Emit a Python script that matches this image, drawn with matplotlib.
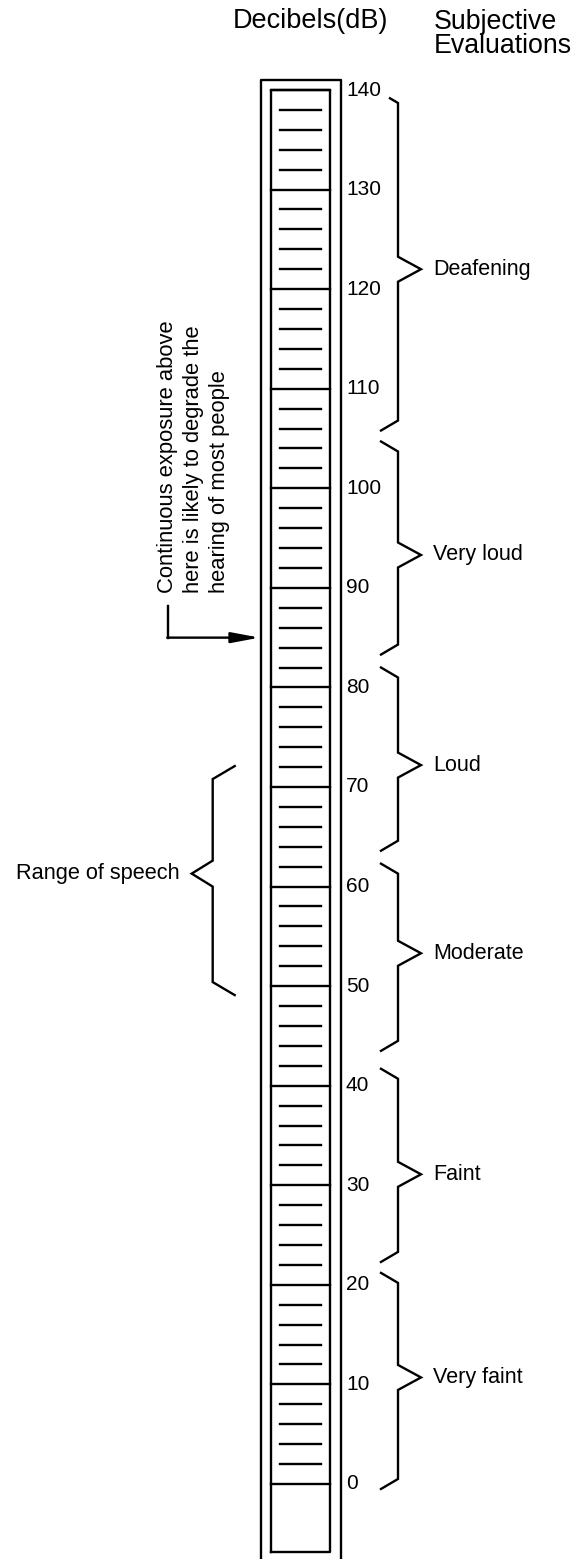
import matplotlib.pyplot as plt

plt.rcParams['font.family'] = ['Liberation Sans', 'DejaVu Sans']

# decibel scale (labelled every 10 dB, short marks every 2 dB)
scale_db = [0, 10, 20, 30, 40, 50, 60, 70, 80, 90, 100, 110, 120, 130, 140]
minor_db = [2, 4, 6, 8, 12, 14, 16, 18, 22, 24, 26, 28, 32, 34, 36, 38,
            42, 44, 46, 48, 52, 54, 56, 58, 62, 64, 66, 68, 72, 74, 76, 78,
            82, 84, 86, 88, 92, 94, 96, 98, 102, 104, 106, 108, 112, 114, 116, 118,
            122, 124, 126, 128, 132, 134, 136, 138]
scale_bottom_db = -6.8

# subjective evaluations (brace top, bottom, pointer in dB)
evaluations = ['Deafening', 'Very loud', 'Loud', 'Moderate', 'Faint', 'Very faint']
eval_top = [139.7, 104.7, 82.0, 62.3, 41.7, 21.2]
eval_bottom = [105.8, 83.3, 63.6, 43.5, 22.3, -0.5]
eval_mid = [122.0, 93.3, 72.2, 53.3, 31.1, 10.7]

# range of speech
speech_top = 72.1
speech_bottom = 49.1
speech_mid = 61.3

# hearing damage threshold
exposure_db = 85
exposure_text = 'Continuous exposure above\nhere is likely to degrade the\nhearing of most people'

W, H = 584, 1559
PX = 9.957          # pixels per dB
top_px = 90         # y pixel of 140 dB


def db(px):
    # pixel row -> dB on this axis
    return 140 - (px - top_px) / PX


fig = plt.figure(figsize=(W / 100, H / 100), dpi=100)
ax = fig.add_axes([0, 0, 1, 1])
ax.set_xlim(0, W)
ax.set_ylim(db(H), db(0))
ax.axis('off')

lw = 1.7
k = 'black'

# outer frame (open at the bottom)
ax.plot([260.5, 260.5, 340.5, 340.5], [db(H + 5), db(80), db(80), db(H + 5)], color=k, lw=lw)
# inner column
ax.plot([271, 271, 330, 330, 271], [scale_bottom_db, 140, 140, scale_bottom_db, scale_bottom_db],
        color=k, lw=lw)

for d in scale_db:
    ax.plot([271, 330], [d, d], color=k, lw=lw)
    ax.text(346, d, str(d), fontsize=15, ha='left', va='center')
for d in minor_db:
    ax.plot([280, 321], [d, d], color=k, lw=lw)

# right-hand braces
bx = 398
end_dx, end_dy = 17, 10 / PX
tip_dx, tip_dy = 23, 12.5 / PX
for i, name in enumerate(evaluations):
    t, b, m = eval_top[i], eval_bottom[i], eval_mid[i]
    xs = [bx - end_dx, bx, bx, bx + tip_dx, bx, bx, bx - end_dx]
    ys = [t, t - end_dy, m + tip_dy, m, m - tip_dy, b + end_dy, b]
    if i == 0:
        # top end is cut short under the 140 label
        xs[0] = bx - 8
        ys[0] = t - end_dy + 8 / end_dx * end_dy
    ax.plot(xs, ys, color=k, lw=lw, solid_joinstyle='miter')
    ax.text(433, m, name, fontsize=15.5, ha='left', va='center')

# left brace: range of speech
lx = 212.7
l_end_dx, l_end_dy = 22, 13 / PX
l_tip_dx, l_tip_dy = 21, 13 / PX
xs = [lx + l_end_dx, lx, lx, lx - l_tip_dx, lx, lx, lx + l_end_dx]
ys = [speech_top, speech_top - l_end_dy, speech_mid + l_tip_dy, speech_mid,
      speech_mid - l_tip_dy, speech_bottom + l_end_dy, speech_bottom]
ax.plot(xs, ys, color=k, lw=lw, solid_joinstyle='miter')
ax.text(180, speech_mid, 'Range of speech', fontsize=15.7, ha='right', va='center')

# exposure arrow
ax.plot([168, 168], [db(606), exposure_db], color=k, lw=lw)
ax.annotate('', xy=(259.5, exposure_db), xytext=(167.2, exposure_db),
            arrowprops=dict(arrowstyle='-|>,head_length=1.7,head_width=0.32',
                            color=k, lw=lw, shrinkA=0, shrinkB=0))
ax.text(157, db(593), exposure_text, fontsize=15.8, rotation=90,
        ha='left', va='bottom', multialignment='left', linespacing=1.32)

# headings
ax.text(310, db(28.5), 'Decibels(dB)', fontsize=19.5, ha='center', va='baseline')
ax.text(434, db(29), 'Subjective', fontsize=19.3, ha='left', va='baseline')
ax.text(434, db(53), 'Evaluations', fontsize=19.3, ha='left', va='baseline')

fig.savefig('out.png', dpi=100)
